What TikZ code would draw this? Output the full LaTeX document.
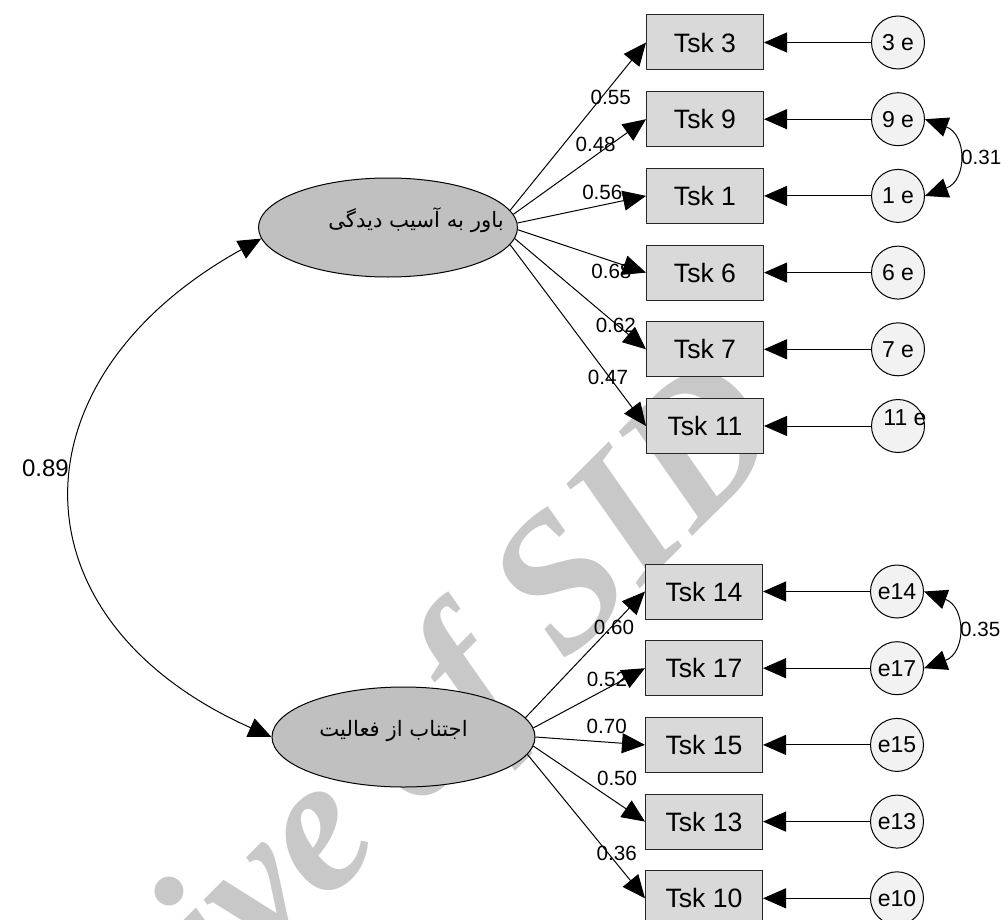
\documentclass[tikz,border=0pt]{standalone}
\usepackage{fontspec}
\setmainfont{Liberation Sans}
\newfontfamily\farsi[Script=Arabic]{DejaVu Sans}
\newfontfamily\markfont{Liberation Serif}
\TeXXeTstate=1
\usetikzlibrary{arrows.meta,positioning,shapes.geometric,backgrounds}
\definecolor{latentfill}{RGB}{192,192,192}
\definecolor{taskfill}{RGB}{217,217,217}
\definecolor{errfill}{RGB}{242,242,242}
\definecolor{markgray}{RGB}{200,200,200}

\begin{document}
\begin{tikzpicture}
        [x=0.5pt, y=0.5pt,
        node distance=38.35pt and 96.5pt,
        on grid,
        >={Triangle[length=11.5pt,width=10pt]},
        line width=0.5pt,
        task/.style={rectangle, draw=black!85, fill=taskfill, minimum width=58.5pt, minimum height=27.5pt, inner sep=0pt, font=\fontsize{13.3}{15}\selectfont},
        errvar/.style={circle, draw, fill=errfill, minimum size=26.5pt, inner sep=0pt, font=\fontsize{11.5}{13}\selectfont},
        latent/.style={ellipse, draw, fill=latentfill, inner sep=0pt},
        factorname/.style={inner sep=0pt, font=\fontsize{10.6}{12}\selectfont\farsi},
        coef/.style={font=\fontsize{10.3}{12}\selectfont, inner sep=0pt},
        watermark/.style={text=markgray, font=\fontsize{96}{96}\selectfont\markfont\bfseries\itshape}]

        \useasboundingbox (0,0) rectangle (1006,-920);

        % factors
        \node[latent, minimum width=129.5pt, minimum height=49.5pt] (belief) at (388,-227.5) {};
        \node[latent, minimum width=131.5pt, minimum height=50pt] (avoid) at (403.5,-737) {};
        \node[factorname] (beliefname) at ([xshift=14pt, yshift=3.5pt]belief.center) {\beginR باور به آسیب دیدگی\endR};
        \node[factorname] (avoidname) at ([xshift=-5pt, yshift=3pt]avoid.center) {\beginR اجتناب از فعالیت\endR};

        % items of the first factor
        \node[task] (t3) at (705,-42.5) {Tsk 3};
        \node[task] (t9) [below=of t3] {Tsk 9};
        \node[task] (t1) [below=of t9] {Tsk 1};
        \node[task] (t6) [below=of t1] {Tsk 6};
        \node[task] (t7) [below=of t6] {Tsk 7};
        \node[task] (t11) [below=of t7] {Tsk 11};

        % items of the second factor
        \node[task] (t14) at (704,-591.5) {Tsk 14};
        \node[task] (t17) [below=of t14] {Tsk 17};
        \node[task] (t15) [below=of t17] {Tsk 15};
        \node[task] (t13) [below=of t15] {Tsk 13};
        \node[task] (t10) [below=of t13] {Tsk 10};

        % error terms
        \node[errvar] (e3) [right=of t3] {3 e};
        \node[errvar] (e9) [right=of t9] {9 e};
        \node[errvar] (e1) [right=of t1] {1 e};
        \node[errvar] (e6) [right=of t6] {6 e};
        \node[errvar] (e7) [right=of t7] {7 e};
        \node[errvar] (e11) [right=of t11] {\makebox[0pt]{\raisebox{0.5pt}[0pt][0pt]{\hspace{7pt}11 e}}};
        \node[errvar] (e14) [right=of t14] {e14};
        \node[errvar] (e17) [right=of t17] {e17};
        \node[errvar] (e15) [right=of t15] {e15};
        \node[errvar] (e13) [right=of t13] {e13};
        \node[errvar] (e10) [right=of t10] {e10};

        % loadings
        \draw[->] (belief.8) -- node[coef, pos=.74, yshift=-5.5pt] (c3) {0.55} (t3.west);
        \draw[->] (belief.6) -- node[coef, pos=.62, yshift=5.5pt] (c9) {0.48} (t9.west);
        \draw[->] (belief.2) -- node[coef, pos=.66, yshift=6.5pt] (c1) {0.56} (t1.west);
        \draw[->] (belief.-1) -- node[coef, pos=.73, yshift=-5pt] (c6) {0.68} (t6.west);
        \draw[->] (belief.-5) -- node[coef, pos=.77, yshift=-1pt] (c7) {0.62} (t7.west);
        \draw[->] (belief.-8) -- node[coef, pos=.72, yshift=-1pt] (c11) {0.47} (t11.west);

        \draw[->] (avoid.9) -- node[coef, pos=.74, yshift=-1.5pt] (c14) {0.60} (t14.west);
        \draw[->] (avoid.4) -- node[coef, pos=.66, yshift=4.5pt] (c17) {0.52} (t17.west);
        \draw[->] (avoid.0) -- node[coef, pos=.65, yshift=8pt] (c15) {0.70} (t15.west);
        \draw[->] (avoid.-4) -- node[coef, pos=.75, yshift=12pt] (c13) {0.50} (t13.west);
        \draw[->] (avoid.-8) -- node[coef, pos=.76, yshift=5pt] (c10) {0.36} (t10.west);

        % errors to items
        \draw[->] (e3) -- (t3.east);
        \draw[->] (e9) -- (t9.east);
        \draw[->] (e1) -- (t1.east);
        \draw[->] (e6) -- (t6.east);
        \draw[->] (e7) -- (t7.east);
        \draw[->] (e11) -- (t11.east);
        \draw[->] (e14) -- (t14.east);
        \draw[->] (e17) -- (t17.east);
        \draw[->] (e15) -- (t15.east);
        \draw[->] (e13) -- (t13.east);
        \draw[->] (e10) -- (t10.east);

        % covariances
        \draw[<->] (e9.east) to[out=-20, in=20, looseness=1.5] node[coef, right=2pt] (c91) {0.31} (e1.east);
        \draw[<->] (e14.east) to[out=-20, in=20, looseness=1.5] node[coef, right=2pt] (c1417) {0.35} (e17.east);
        \draw[<->] (belief.185) to[out=209, in=156, looseness=1.48] node[coef, pos=.45, left=2.5pt, font=\fontsize{12}{14}\selectfont] (c89) {0.89} (avoid.west);

        \begin{scope}[on background layer]
                \node[watermark, rotate=45, anchor=base east] (mark) at (797,-432) {Archive of SID};
        \end{scope}
\end{tikzpicture}
\end{document}
